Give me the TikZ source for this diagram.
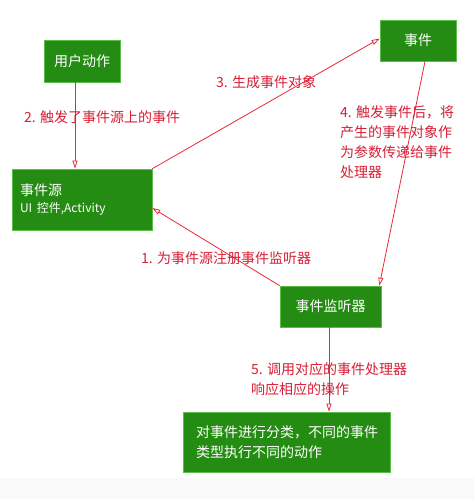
\documentclass[tikz,border=0pt]{standalone}
\usepackage{fontspec}
\setmainfont{Noto Sans CJK SC}
\usetikzlibrary{arrows.meta}
\definecolor{boxgreen}{RGB}{36,140,18}
\definecolor{boxedge}{RGB}{90,190,70}
\definecolor{linered}{RGB}{232,40,52}
\definecolor{textred}{RGB}{214,30,52}
\tikzset{box/.style={fill=boxgreen, draw=boxedge, line width=0.6pt, text=white, font=\fontsize{14}{20}\selectfont, inner sep=0pt}}
\tikzset{arrow/.style={-{Triangle[open,length=8pt,width=5pt]}, draw=linered, line width=0.8pt}}
\tikzset{note/.style={text=textred, font=\fontsize{14}{20}\selectfont, anchor=west, align=left, inner sep=0pt}}

\begin{document}
\begin{tikzpicture}[x=1pt, y=1pt]
      \useasboundingbox (0,0) rectangle (474,502);
      \fill[gray!5] (0,3) rectangle (474,24);

      \node[box, minimum width=76pt, minimum height=42pt] (act) at (82, 441) {用户动作};
      \node[box, minimum width=140pt, minimum height=61pt, text width=124pt, align=left] (src) at (82, 302.5)
        {事件源\\[-3pt]{\fontsize{12}{16}\selectfont UI 控件,Activity}};
      \node[box, minimum width=76pt, minimum height=41pt] (evt) at (418, 461.5) {事件};
      \node[box, minimum width=101pt, minimum height=41pt] (lsn) at (330.5, 195.5) {事件监听器};
      \node[box, minimum width=207pt, minimum height=60pt, text width=181pt, align=left] (hdl) at (286.5, 60)
        {对事件进行分类，不同的事件\\类型执行不同的动作};

      \draw[arrow] ([xshift=-7pt]act.south) -- ([xshift=-7pt]act.south |- src.north);
      \draw[arrow] (src.north east) -- ([yshift=2pt]evt.west);
      \draw[arrow] ([xshift=7pt]evt.south) -- ([xshift=-2pt]lsn.north east);
      \draw[arrow] (lsn.north west) -- ([yshift=-8.5pt]src.east);
      \draw[arrow] ([xshift=-1.5pt]lsn.south) -- ([xshift=-1.5pt]lsn.south |- hdl.north);

      \node[note] (l2) at (24, 385) {2. 触发了事件源上的事件};
      \node[note] (l3) at (216, 420) {3. 生成事件对象};
      \node[note] (l4) at (340, 359.5) {4. 触发事件后，将\\产生的事件对象作\\为参数传递给事件\\处理器};
      \node[note] (l1) at (141, 244) {1. 为事件源注册事件监听器};
      \node[note] (l5) at (251, 123) {5. 调用对应的事件处理器\\响应相应的操作};
    \end{tikzpicture}
\end{document}
